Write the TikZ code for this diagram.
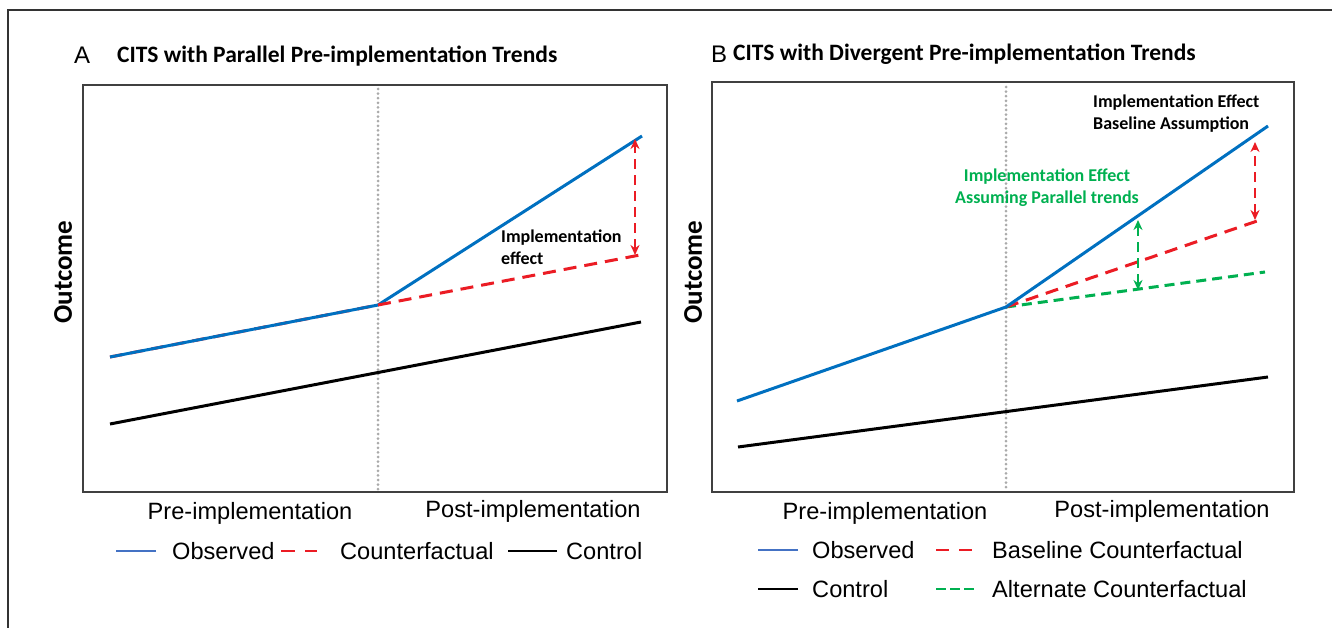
\documentclass[tikz,border=0pt]{standalone}
\usepackage{fontspec}
\setmainfont{Liberation Sans}
\newfontfamily\calfont{Carlito}
\usetikzlibrary{arrows.meta}

\definecolor{obsblue}{RGB}{0,112,192}
\definecolor{legblue}{RGB}{68,114,196}
\definecolor{cfred}{RGB}{235,28,36}
\definecolor{altgreen}{RGB}{0,176,80}
\definecolor{divgray}{RGB}{170,170,170}

\begin{document}
\begin{tikzpicture}[x=1pt,y=-1pt,
    observed/.style={obsblue,line width=3pt},
    control/.style={black,line width=3pt},
    counterfactual/.style={cfred,line width=3pt,dash pattern=on 13pt off 8pt},
    alternate/.style={altgreen,line width=3pt,dash pattern=on 10pt off 6pt},
    divider/.style={divgray,line width=3pt,line cap=round,dash pattern=on 0pt off 4.6pt},
    panel/.style={draw=black!75,line width=1.3pt},
    effect/.style={line width=2.6pt,dash pattern=on 10pt off 6pt,
      {Stealth[length=10pt,width=9pt]}-{Stealth[length=10pt,width=9pt]}},
    letter/.style={font=\fontsize{24}{28}\selectfont,anchor=west,inner sep=0pt},
    heading/.style={font=\calfont\bfseries\fontsize{23.5}{28}\selectfont,anchor=west,inner sep=0pt},
    ytitle/.style={font=\calfont\bfseries\fontsize{27}{32}\selectfont,rotate=90,inner sep=0pt},
    axislabel/.style={font=\fontsize{23.6}{28}\selectfont,inner sep=0pt},
    note/.style={font=\calfont\bfseries\fontsize{18}{22}\selectfont,inner sep=0pt},
    legtext/.style={font=\fontsize{23.6}{28}\selectfont,anchor=west,inner sep=0pt},
    legline/.style={line width=2.5pt},
  ]
  \useasboundingbox (0,0) rectangle (1332,628);
  % outer frame (only top and left show)
  \draw[line width=1.5pt,black!80] (8,628) -- (8,10) -- (1332,10);

  % ---------- panel A ----------
  \node[letter] (a-letter) at (74,55) {A};
  \node[heading] (a-title) at (117,56) {CITS with Parallel Pre-implementation Trends};
  \draw[panel] (83,85) rectangle (667,492);
  \coordinate (a-top) at (378,89);
  \coordinate (a-bot) at (378,490);
  \draw[divider] (a-top) -- (a-bot);
  \node[ytitle] (a-y) at (63,272) {Outcome};

  \coordinate (a-c0) at (110,424);
  \coordinate (a-c1) at (641,322);
  \coordinate (a-o0) at (110,357);
  \coordinate (a-knee) at (378,305);
  \coordinate (a-o1) at (642,136);
  \coordinate (a-cf1) at (640,255);
  \draw[control] (a-c0) -- (a-c1);
  \draw[counterfactual] (a-o0) -- (a-knee);
  \draw[observed] (a-o0) -- (a-knee) -- (a-o1);
  \draw[counterfactual] (a-knee) -- (a-cf1);
  \coordinate (a-eff0) at (635,255);
  \coordinate (a-eff1) at (635,139);
  \draw[effect,cfred] (a-eff0) -- (a-eff1);
  \node[note,align=left,anchor=west] (a-note) at (501,247) {Implementation\\effect};

  \node[axislabel] (a-pre) at (250,513) {Pre-implementation};
  \node[axislabel] (a-post) at (533,511) {Post-implementation};

  % legend A
  \node[legtext] (a-lobs) at (172,551) {Observed};
  \node[legtext] (a-lcf) at (340,551) {Counterfactual};
  \node[legtext] (a-lctl) at (566,551) {Control};
  \draw[legline,legblue] ([xshift=-16pt]a-lobs.west) -- ++(-40,0);
  \draw[legline,cfred,dash pattern=on 14pt off 10pt] ([xshift=-59pt]a-lcf.west) -- ++(36,0);
  \draw[legline,black] ([xshift=-9pt]a-lctl.west) -- ++(-49,0);

  % ---------- panel B ----------
  \node[letter] (b-letter) at (711,54) {B};
  \node[heading] (b-title) at (733,54) {CITS with Divergent Pre-implementation Trends};
  \draw[panel] (712,82) rectangle (1294,492);
  \coordinate (b-top) at (1006,87);
  \coordinate (b-bot) at (1006,490);
  \draw[divider] (b-top) -- (b-bot);
  \node[ytitle] (b-y) at (693,272) {Outcome};

  \coordinate (b-c0) at (738,447);
  \coordinate (b-c1) at (1268,377);
  \coordinate (b-o0) at (737,401);
  \coordinate (b-knee) at (1006,307);
  \coordinate (b-o1) at (1268,126);
  \coordinate (b-cf1) at (1263,219);
  \coordinate (b-alt1) at (1265,272);
  \draw[control] (b-c0) -- (b-c1);
  \draw[alternate] (b-knee) -- (b-alt1);
  \draw[counterfactual] (b-knee) -- (b-cf1);
  \draw[observed] (b-o0) -- (b-knee) -- (b-o1);
  \coordinate (b-eff0) at (1255,220);
  \coordinate (b-eff1) at (1255,142);
  \draw[effect,cfred] (b-eff0) -- (b-eff1);
  \coordinate (b-alt-eff0) at (1138,290);
  \coordinate (b-alt-eff1) at (1138,220);
  \draw[effect,altgreen] (b-alt-eff0) -- (b-alt-eff1);
  \node[note,align=left,anchor=west] (b-note) at (1093,114) {Implementation Effect\\Baseline Assumption};
  \node[note,align=center,text=altgreen] (b-altnote) at (1047,188) {Implementation Effect\\Assuming Parallel trends};

  \node[axislabel] (b-pre) at (885,513) {Pre-implementation};
  \node[axislabel] (b-post) at (1162,511) {Post-implementation};

  % legend B
  \node[legtext] (b-lobs) at (812,550) {Observed};
  \node[legtext] (b-lcf) at (992,550) {Baseline Counterfactual};
  \node[legtext] (b-lctl) at (812,589) {Control};
  \node[legtext] (b-lalt) at (992,589) {Alternate Counterfactual};
  \draw[legline,legblue] ([xshift=-14pt]b-lobs.west) -- ++(-40,0);
  \draw[legline,cfred,dash pattern=on 13pt off 10pt] ([xshift=-56pt]b-lcf.west) -- ++(36,0);
  \draw[legline,black] ([xshift=-14pt]b-lctl.west) -- ++(-40,0);
  \draw[legline,altgreen,dash pattern=on 10pt off 4pt] ([xshift=-56pt]b-lalt.west) -- ++(38,0);
\end{tikzpicture}
\end{document}
